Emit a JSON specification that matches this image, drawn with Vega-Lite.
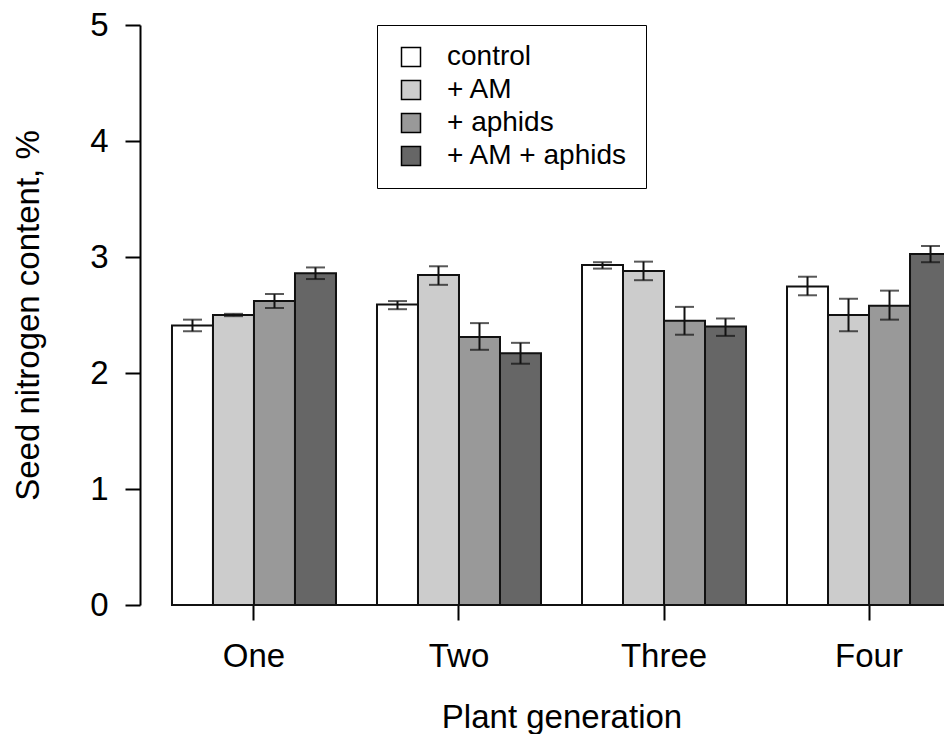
{
  "$schema": "https://vega.github.io/schema/vega-lite/v6.json",
  "width": 804,
  "height": 580,
  "autosize": {"type": "none"},
  "padding": {"left": 140, "top": 25, "right": 0, "bottom": 129},
  "config": {
    "view": {"stroke": null},
    "font": "Liberation Sans",
    "axis": {"labelColor": "#000", "titleColor": "#000", "titleFontWeight": "normal", "grid": false}
  },
  "data": {
    "values": [
      {"generation": "One", "treatment": "control", "mean": 2.41, "lo": 2.36, "hi": 2.46},
      {"generation": "One", "treatment": "+ AM", "mean": 2.50, "lo": 2.49, "hi": 2.51},
      {"generation": "One", "treatment": "+ aphids", "mean": 2.62, "lo": 2.56, "hi": 2.68},
      {"generation": "One", "treatment": "+ AM + aphids", "mean": 2.86, "lo": 2.81, "hi": 2.91},
      {"generation": "Two", "treatment": "control", "mean": 2.59, "lo": 2.55, "hi": 2.62},
      {"generation": "Two", "treatment": "+ AM", "mean": 2.845, "lo": 2.76, "hi": 2.92},
      {"generation": "Two", "treatment": "+ aphids", "mean": 2.31, "lo": 2.20, "hi": 2.43},
      {"generation": "Two", "treatment": "+ AM + aphids", "mean": 2.17, "lo": 2.08, "hi": 2.26},
      {"generation": "Three", "treatment": "control", "mean": 2.93, "lo": 2.90, "hi": 2.955},
      {"generation": "Three", "treatment": "+ AM", "mean": 2.88, "lo": 2.80, "hi": 2.96},
      {"generation": "Three", "treatment": "+ aphids", "mean": 2.45, "lo": 2.33, "hi": 2.57},
      {"generation": "Three", "treatment": "+ AM + aphids", "mean": 2.40, "lo": 2.32, "hi": 2.47},
      {"generation": "Four", "treatment": "control", "mean": 2.745, "lo": 2.67, "hi": 2.83},
      {"generation": "Four", "treatment": "+ AM", "mean": 2.50, "lo": 2.36, "hi": 2.64},
      {"generation": "Four", "treatment": "+ aphids", "mean": 2.58, "lo": 2.46, "hi": 2.71},
      {"generation": "Four", "treatment": "+ AM + aphids", "mean": 3.025, "lo": 2.955, "hi": 3.095}
    ]
  },
  "layer": [
    {
      "mark": {"type": "bar", "stroke": "#111", "strokeWidth": 2},
      "encoding": {
        "x": {
          "field": "generation", "type": "nominal",
          "sort": ["One", "Two", "Three", "Four"],
          "scale": {"domain": ["One", "Two", "Three", "Four"], "range": [0, 843], "paddingInner": 0.2, "paddingOuter": 0.156},
          "title": "Plant generation",
          "axis": {
            "domain": false, "ticks": true, "tickSize": 15, "tickWidth": 2, "tickColor": "#000",
            "labelAngle": 0, "labelFontSize": 33, "labelPadding": 20,
            "titleFontSize": 33, "titlePadding": 28
          }
        },
        "xOffset": {
          "field": "treatment", "type": "nominal",
          "sort": ["control", "+ AM", "+ aphids", "+ AM + aphids"],
          "scale": {"domain": ["control", "+ AM", "+ aphids", "+ AM + aphids"], "paddingInner": 0, "paddingOuter": 0}
        },
        "y": {
          "field": "mean", "type": "quantitative",
          "scale": {"domain": [0, 5], "nice": false, "zero": true},
          "title": "Seed nitrogen content, %",
          "axis": {
            "values": [0, 1, 2, 3, 4, 5], "format": "d", "domainColor": "#000", "domainWidth": 2,
            "tickColor": "#000", "tickWidth": 2, "tickSize": 15,
            "labelFontSize": 33, "labelPadding": 17, "labelFlush": false, "labelOverlap": false,
            "titleFontSize": 33, "titlePadding": 44
          }
        },
        "fill": {
          "field": "treatment", "type": "nominal",
          "sort": ["control", "+ AM", "+ aphids", "+ AM + aphids"],
          "scale": {"domain": ["control", "+ AM", "+ aphids", "+ AM + aphids"], "range": ["#ffffff", "#cccccc", "#999999", "#666666"]},
          "legend": {
            "orient": "none", "legendX": 237, "legendY": 0, "title": null,
            "labelFontSize": 28, "labelColor": "#000", "labelLimit": 400,
            "symbolType": "square", "symbolSize": 361, "symbolStrokeColor": "#000",
            "strokeColor": "#000", "fillColor": "#fff",
            "padding": 18, "symbolOffset": 2, "labelOffset": 22, "rowPadding": 5
          }
        }
      }
    },
    {
      "mark": {"type": "rule", "color": "#111", "strokeWidth": 2},
      "data": {"values": [{"generation": "One", "gen2": "Four", "z": 0}]},
      "encoding": {
        "x": {"field": "generation", "type": "nominal", "sort": ["One", "Two", "Three", "Four"], "bandPosition": 0},
        "x2": {"field": "gen2", "bandPosition": 1},
        "y": {"field": "z", "type": "quantitative"}
      }
    },
    {
      "mark": {"type": "rule", "color": "#111", "strokeWidth": 2},
      "encoding": {
        "x": {"field": "generation", "type": "nominal", "sort": ["One", "Two", "Three", "Four"]},
        "xOffset": {"field": "treatment", "type": "nominal", "sort": ["control", "+ AM", "+ aphids", "+ AM + aphids"]},
        "y": {"field": "lo", "type": "quantitative"},
        "y2": {"field": "hi"}
      }
    },
    {
      "mark": {"type": "tick", "color": "#111", "size": 19, "thickness": 2},
      "encoding": {
        "x": {"field": "generation", "type": "nominal", "sort": ["One", "Two", "Three", "Four"]},
        "xOffset": {"field": "treatment", "type": "nominal", "sort": ["control", "+ AM", "+ aphids", "+ AM + aphids"]},
        "y": {"field": "lo", "type": "quantitative"}
      }
    },
    {
      "mark": {"type": "tick", "color": "#111", "size": 19, "thickness": 2},
      "encoding": {
        "x": {"field": "generation", "type": "nominal", "sort": ["One", "Two", "Three", "Four"]},
        "xOffset": {"field": "treatment", "type": "nominal", "sort": ["control", "+ AM", "+ aphids", "+ AM + aphids"]},
        "y": {"field": "hi", "type": "quantitative"}
      }
    }
  ]
}
